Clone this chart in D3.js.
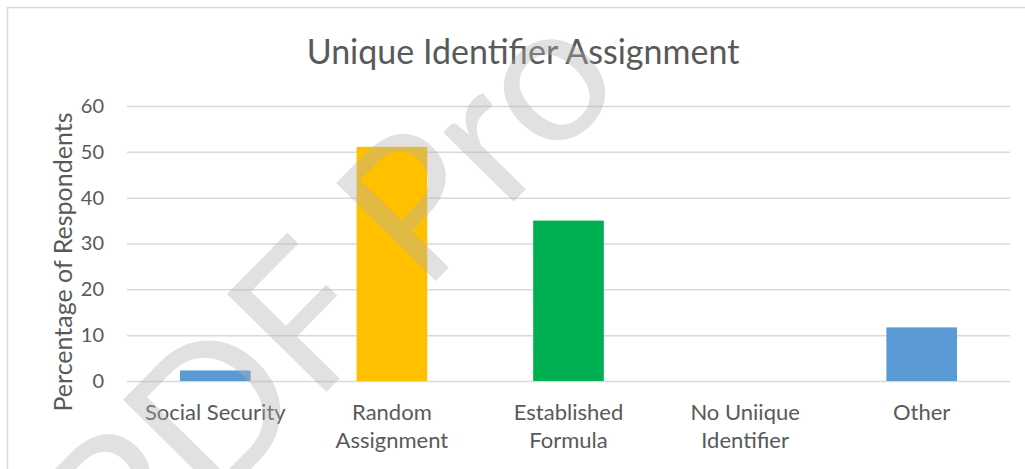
<!DOCTYPE html>
<html>
<head>
<meta charset="utf-8">
<script src="https://d3js.org/d3.v7.min.js"></script>
<style>
  body { margin: 0; background: #fff; }
  text { font-family: Lato, "Open Sans", sans-serif; fill: #595959; }
</style>
</head>
<body>
<div id="chart"></div>
<script>
// chart data
let categories = ["Social Security", "Random Assignment", "Established Formula", "No Uniique Identifier", "Other"];
let labelLines = [["Social Security"], ["Random", "Assignment"], ["Established", "Formula"], ["No Uniique", "Identifier"], ["Other"]];
let values = [2.3, 51.1, 35, 0, 11.7];
let barColors = ["#5B9BD5", "#FFC000", "#00B050", "#5B9BD5", "#5B9BD5"];
let yTicks = [0, 10, 20, 30, 40, 50, 60];

// set svg width and height
let svgWidth = 1025;
let svgHeight = 469;

// plot area
let margin = { top: 106, right: 15, bottom: 88, left: 127 };
let width = svgWidth - margin.left - margin.right;
let height = svgHeight - margin.top - margin.bottom;

let svg = d3.select("#chart")
  .append("svg")
  .attr("width", svgWidth)
  .attr("height", svgHeight);

// chart frame
svg.append("rect")
  .attr("x", 7.5)
  .attr("y", 7.5)
  .attr("width", svgWidth)
  .attr("height", svgHeight)
  .attr("fill", "none")
  .attr("stroke", "#d9d9d9")
  .attr("stroke-width", 1.5);

let plot = svg.append("g")
  .attr("transform", `translate(${margin.left}, ${margin.top})`);

// scales
let x = d3.scaleBand()
  .domain(categories)
  .range([0, width])
  .paddingInner(0.6)
  .paddingOuter(0.3);

let y = d3.scaleLinear()
  .domain([0, 60])
  .range([height, 0]);

// gridlines + y labels
let yAxis = d3.axisLeft(y)
  .tickValues(yTicks)
  .tickSize(-width)
  .tickPadding(23);

let yGroup = plot.append("g").call(yAxis);
yGroup.select(".domain").remove();
yGroup.selectAll(".tick line")
  .attr("stroke", "#d9d9d9")
  .attr("stroke-width", 1.5);
yGroup.selectAll(".tick text")
  .attr("font-size", 20)
  .attr("font-family", "Lato, sans-serif")
  .attr("fill", "#595959");

// bars
plot.selectAll("rect.bar")
  .data(values)
  .enter()
  .append("rect")
  .attr("class", "bar")
  .attr("x", (d, i) => x(categories[i]))
  .attr("y", d => y(d))
  .attr("width", x.bandwidth())
  .attr("height", d => height - y(d))
  .attr("fill", (d, i) => barColors[i]);

// category labels
let xLabels = plot.selectAll("text.cat")
  .data(categories)
  .enter()
  .append("text")
  .attr("class", "cat")
  .attr("text-anchor", "middle")
  .attr("font-size", 22)
  .attr("transform", d => `translate(${x(d) + x.bandwidth() / 2}, ${height + 39})`);

xLabels.selectAll("tspan")
  .data((d, i) => labelLines[i])
  .enter()
  .append("tspan")
  .attr("x", 0)
  .attr("dy", (d, j) => j === 0 ? 0 : 28)
  .text(d => d);

// title
svg.append("text")
  .attr("x", 523)
  .attr("y", 64)
  .attr("text-anchor", "middle")
  .attr("font-size", 34)
  .text("Unique Identifier Assignment");

// y axis title
svg.append("text")
  .attr("transform", "translate(72, 262) rotate(-90)")
  .attr("text-anchor", "middle")
  .attr("font-size", 25)
  .text("Percentage of Respondents");

// watermark
svg.append("text")
  .attr("transform", "translate(128, 594) rotate(-45.5)")
  .attr("font-family", "Liberation Sans, Arial, sans-serif")
  .attr("font-size", 195)
  .style("fill", "rgba(175,175,175,0.38)")
  .text("PDF Pro");
</script>
</body>
</html>
